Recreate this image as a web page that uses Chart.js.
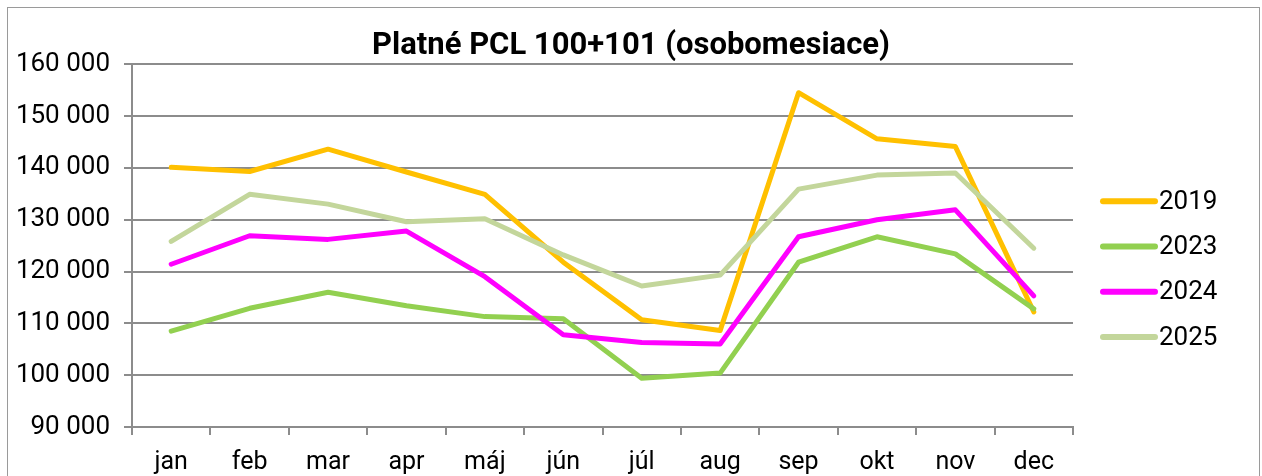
<!DOCTYPE html>
<html>
<head>
<meta charset="utf-8">
<script src="https://cdn.jsdelivr.net/npm/chart.js@4"></script>
<style>
  html, body { margin: 0; padding: 0; background: #fff; }
  #wrap { position: relative; width: 1262px; height: 476px; overflow: hidden; }
  #frame { position: absolute; left: 7px; top: 7px; width: 1251px; height: 500px; border: 1px solid #9a9a9a; pointer-events: none; }
</style>
</head>
<body>
<div id="wrap">
  <canvas id="chart" width="1262" height="476"></canvas>
  <div id="frame"></div>
</div>
<script>
// Chart data
const months = ['jan', 'feb', 'mar', 'apr', 'máj', 'jún', 'júl', 'aug', 'sep', 'okt', 'nov', 'dec'];
const seriesNames = ['2019', '2023', '2024', '2025'];
const values2019 = [140100, 139300, 143600, 139200, 134900, 121800, 110700, 108600, 154500, 145600, 144100, 112200];
const values2023 = [108500, 112900, 116000, 113400, 111300, 110900, 99400, 100400, 121800, 126700, 123400, 112800];
const values2024 = [121400, 126900, 126200, 127800, 119000, 107800, 106300, 106000, 126700, 130000, 131900, 115300];
const values2025 = [125800, 134900, 133000, 129600, 130200, 123200, 117200, 119300, 135900, 138600, 139000, 124500];
const yMin = 90000;
const yMax = 160000;
const yStep = 10000;

const colors = ['#FFC000', '#92D050', '#FF00FF', '#C3D69B'];
const gridColor = '#8c8c8c';
const fontFamily = 'Roboto, "Liberation Sans", sans-serif';

function formatThousands(v) {
  return String(v).replace(/\B(?=(\d{3})+(?!\d))/g, ' ');
}

const allValues = [values2019, values2023, values2024, values2025];

// Legend on the right, drawn as short lines with labels
const sideLegend = {
  id: 'sideLegend',
  afterDraw(chart) {
    const ctx = chart.ctx;
    const area = chart.chartArea;
    ctx.save();
    chart.data.datasets.forEach((ds, i) => {
      const y = area.top + 137 + i * 45.3;
      const x0 = area.right + 30;
      ctx.strokeStyle = ds.borderColor;
      ctx.lineWidth = 6;
      ctx.lineCap = 'round';
      ctx.beginPath();
      ctx.moveTo(x0, y);
      ctx.lineTo(x0 + 52, y);
      ctx.stroke();
      ctx.fillStyle = '#000';
      ctx.font = '26px ' + fontFamily;
      ctx.textBaseline = 'middle';
      ctx.textAlign = 'left';
      ctx.fillText(ds.label, x0 + 56, y + 1);
    });
    ctx.restore();
  }
};

const ctx = document.getElementById('chart').getContext('2d');
new Chart(ctx, {
  type: 'line',
  data: {
    labels: months,
    datasets: seriesNames.map((name, i) => ({
      label: name,
      data: allValues[i],
      borderColor: colors[i],
      backgroundColor: colors[i],
      borderWidth: 5,
      pointRadius: 0,
      tension: 0,
      borderCapStyle: 'round',
      borderJoinStyle: 'round',
      order: seriesNames.length - i,
    })),
  },
  options: {
    responsive: false,
    animation: false,
    devicePixelRatio: 1,
    layout: {
      padding: { left: 0, right: 0, top: 0, bottom: 0 },
    },
    plugins: {
      legend: { display: false },
      tooltip: { enabled: false },
      title: {
        display: true,
        text: 'Platné PCL 100+101 (osobomesiace)',
        color: '#000',
        font: { family: fontFamily, size: 31, weight: 'bold' },
        padding: { top: 28, bottom: -1 },
      },
    },
    scales: {
      x: {
        offset: true,
        afterFit(scale) {
          scale.height = 49;
        },
        grid: {
          display: true,
          drawOnChartArea: false,
          drawTicks: true,
          tickLength: 8,
          offset: true,
          color: gridColor,
          lineWidth: 2,
        },
        border: { display: true, color: gridColor, width: 2 },
        ticks: {
          color: '#000',
          font: { family: fontFamily, size: 25 },
          padding: 13,
          maxRotation: 0,
          autoSkip: false,
        },
      },
      y: {
        min: yMin,
        max: yMax,
        afterFit(scale) {
          scale.width = 132;
        },
        grid: {
          color: gridColor,
          lineWidth: 2,
          tickLength: 8,
          drawTicks: true,
        },
        border: { display: true, color: gridColor, width: 2 },
        ticks: {
          stepSize: yStep,
          color: '#000',
          font: { family: fontFamily, size: 26 },
          padding: 14,
          callback: (v) => formatThousands(v),
        },
      },
      // empty right-side axis that only reserves room for the legend
      yRight: {
        position: 'right',
        min: yMin,
        max: yMax,
        afterFit(scale) {
          scale.width = 189;
        },
        grid: { drawOnChartArea: false, drawTicks: false },
        border: { display: false },
        ticks: { display: false },
      },
    },
  },
  plugins: [sideLegend],
});
</script>
</body>
</html>
